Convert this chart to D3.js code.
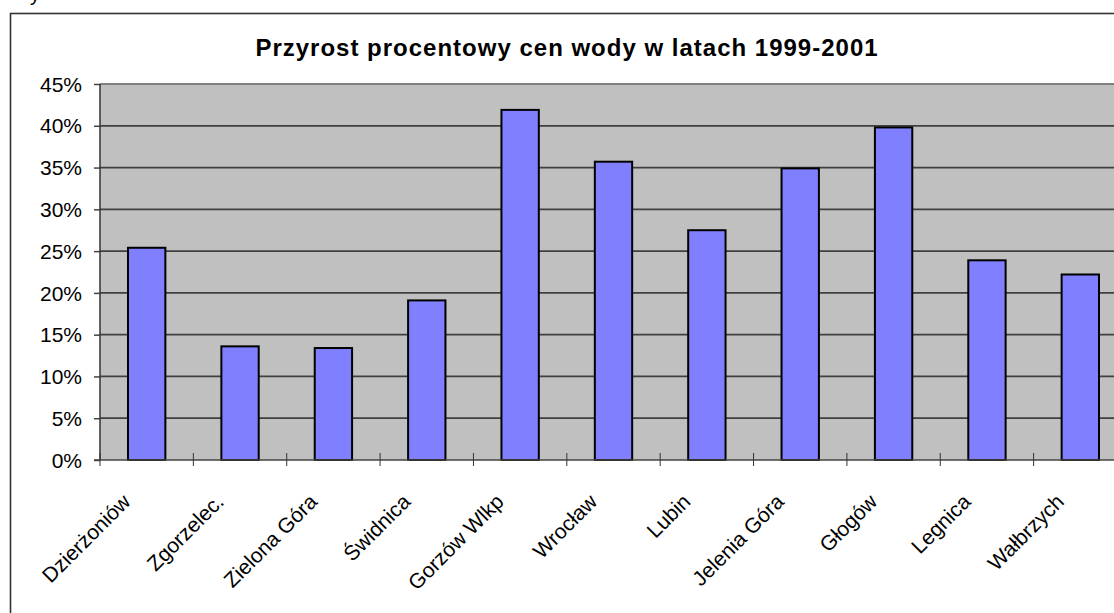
<!DOCTYPE html>
<html>
<head>
<meta charset="utf-8">
<script src="https://cdn.jsdelivr.net/npm/d3@7"></script>
<style>
  body { margin: 0; background: #fff; }
  svg { display: block; font-family: "Liberation Sans", Arial, sans-serif; }
</style>
</head>
<body>
<svg id="chart"></svg>
<script>
var cities = ["Dzierżoniów", "Zgorzelec.", "Zielona Góra", "Świdnica", "Gorzów Wlkp",
              "Wrocław", "Lubin", "Jelenia Góra", "Głogów", "Legnica", "Wałbrzych"];
var growth = [0.254, 0.136, 0.134, 0.191, 0.419, 0.357, 0.275, 0.349, 0.398, 0.239, 0.222];
var yTicks = [0, 0.05, 0.10, 0.15, 0.20, 0.25, 0.30, 0.35, 0.40, 0.45];
var title = "Przyrost procentowy cen wody w latach 1999-2001";

var width = 1114, height = 613;
var plot = {left: 100, top: 84, right: 1127, bottom: 460};

var svg = d3.select("#chart")
    .attr("width", width)
    .attr("height", height);

// cut-off text above the chart box (as in the source image)
svg.append("text")
    .attr("x", 30).attr("y", 1)
    .style("font-size", "20px")
    .text("y");

// chart area border
svg.append("rect")
    .attr("x", 10.5).attr("y", 13.5)
    .attr("width", 1200).attr("height", 700)
    .attr("fill", "#fff")
    .attr("stroke", "#333")
    .attr("stroke-width", 1.6);

svg.append("text")
    .attr("x", 567).attr("y", 56)
    .attr("text-anchor", "middle")
    .style("font-size", "24px")
    .style("font-weight", "bold")
    .style("letter-spacing", "1px")
    .text(title);

var xScale = d3.scaleBand()
    .domain(cities)
    .range([plot.left, plot.right])
    .paddingInner(0.6)
    .paddingOuter(0.3);
var xTickScale = d3.scaleBand()
    .domain(cities)
    .range([plot.left, plot.right]);
var yScale = d3.scaleLinear()
    .domain([0, 0.45])
    .range([plot.bottom, plot.top]);

// plot background
svg.append("rect")
    .attr("x", plot.left).attr("y", plot.top)
    .attr("width", plot.right - plot.left)
    .attr("height", plot.bottom - plot.top)
    .attr("fill", "#c0c0c0");

// gridlines
svg.append("g")
    .selectAll("line")
    .data(yTicks.slice(1)).enter()
    .append("line")
      .attr("x1", plot.left).attr("x2", plot.right)
      .attr("y1", function(d){ return yScale(d); })
      .attr("y2", function(d){ return yScale(d); })
      .attr("stroke", function(d){ return d === 0.45 ? "#808080" : "#404040"; })
      .attr("stroke-width", 1.8);

var yAxis = d3.axisLeft(yScale)
    .tickValues(yTicks)
    .tickSize(6)
    .tickPadding(12)
    .tickFormat(d3.format(".0%"));

var gy = svg.append("g")
    .attr("class", "axis axis-y")
    .attr("transform", "translate(" + plot.left + ",0)")
    .call(yAxis);
gy.select(".domain").remove();
gy.selectAll(".tick line").attr("stroke", "#444").attr("stroke-width", 1.5);
gy.selectAll("text")
    .style("font-size", "21px")
    .style("font-family", "'Liberation Sans', Arial, sans-serif")
    .attr("dy", "0.34em")
    .attr("fill", "#000");

svg.append("line")
    .attr("x1", plot.left).attr("x2", plot.left)
    .attr("y1", plot.top).attr("y2", plot.bottom)
    .attr("stroke", "#333").attr("stroke-width", 1.5);

// bars
svg.append("g")
  .selectAll(".bar")
    .data(growth).enter()
    .append("rect")
      .attr("class", "bar")
      .attr("x", function(d, i){ return xScale(cities[i]); })
      .attr("y", function(d){ return yScale(d); })
      .attr("width", xScale.bandwidth())
      .attr("height", function(d){ return yScale(0) - yScale(d); })
      .attr("fill", "#8080ff")
      .attr("stroke", "#000")
      .attr("stroke-width", 2);

// x axis line and ticks between categories
svg.append("line")
    .attr("x1", plot.left - 6).attr("x2", plot.right)
    .attr("y1", plot.bottom).attr("y2", plot.bottom)
    .attr("stroke", "#444").attr("stroke-width", 1.5);

svg.append("g")
  .selectAll("line")
    .data(cities).enter()
    .append("line")
      .attr("x1", function(d){ return xTickScale(d); })
      .attr("x2", function(d){ return xTickScale(d); })
      .attr("y1", plot.bottom - 7).attr("y2", plot.bottom + 6)
      .attr("stroke", "#333").attr("stroke-width", 1);

// rotated category labels
svg.append("g")
  .selectAll("text")
    .data(cities).enter()
    .append("text")
      .attr("transform", function(d){
        var x = xTickScale(d) + xTickScale.bandwidth() / 2 - 15;
        return "translate(" + x + "," + (plot.bottom + 43) + ") rotate(-45)";
      })
      .attr("text-anchor", "end")
      .style("font-size", "21px")
      .text(function(d){ return d; });
</script>
</body>
</html>
